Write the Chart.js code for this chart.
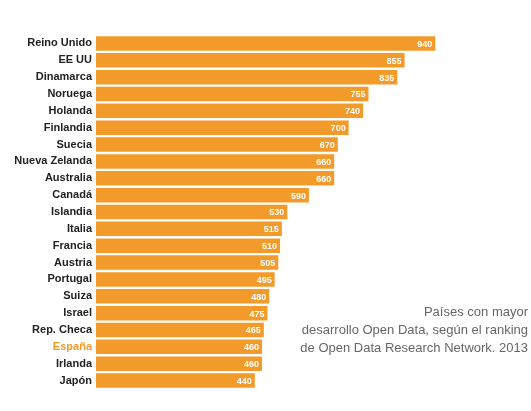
<!DOCTYPE html>
<html><head><meta charset="utf-8">
<script src="https://cdn.jsdelivr.net/npm/chart.js@4"></script>
<style>
html,body{margin:0;padding:0;background:#fff;}
#wrap{position:relative;width:531px;height:411px;}
#note{position:absolute;right:3px;top:303px;text-align:right;font-family:"Liberation Sans",Arial,sans-serif;font-size:13px;line-height:18px;color:#666;font-weight:300;}
</style></head><body>
<div id="wrap"><canvas id="c" width="531" height="411"></canvas>
<div id="note">Países con mayor<br>desarrollo Open Data, según el ranking<br>de Open Data Research Network. 2013</div></div>
<script>
const categories=["Reino Unido","EE UU","Dinamarca","Noruega","Holanda","Finlandia","Suecia","Nueva Zelanda","Australia","Canadá","Islandia","Italia","Francia","Austria","Portugal","Suiza","Israel","Rep. Checa","España","Irlanda","Japón"];
const values=[940,855,835,755,740,700,670,660,660,590,530,515,510,505,495,480,475,465,460,460,440];
const orange="#F39B2A";
const labelPlugin={id:'lbl',afterDatasetsDraw(ch){const ctx=ch.ctx;const meta=ch.getDatasetMeta(0);ctx.save();ctx.font="bold 9px 'Liberation Sans',Arial";ctx.fillStyle="#fff";ctx.textAlign="right";ctx.textBaseline="middle";meta.data.forEach((b,i)=>{ctx.fillText(values[i],b.x-3,b.y+1);});ctx.restore();}};
new Chart(document.getElementById('c'),{type:'bar',
data:{labels:categories,datasets:[{data:values,backgroundColor:orange,barPercentage:0.86,categoryPercentage:1}]},
options:{indexAxis:'y',responsive:false,animation:false,
layout:{padding:{top:35,bottom:22,right:38,left:0}},
plugins:{legend:{display:false},tooltip:{enabled:false}},
scales:{x:{min:0,max:1100,display:false},
y:{grid:{display:false,tickLength:0},border:{display:false},afterFit(s){s.width=96;},
ticks:{padding:4,color:(c)=>c.index===18?orange:'#222',font:{family:"'Liberation Sans Narrow','Liberation Sans',Arial",size:11,weight:'bold'}}}}},
plugins:[labelPlugin]});
</script></body></html>
